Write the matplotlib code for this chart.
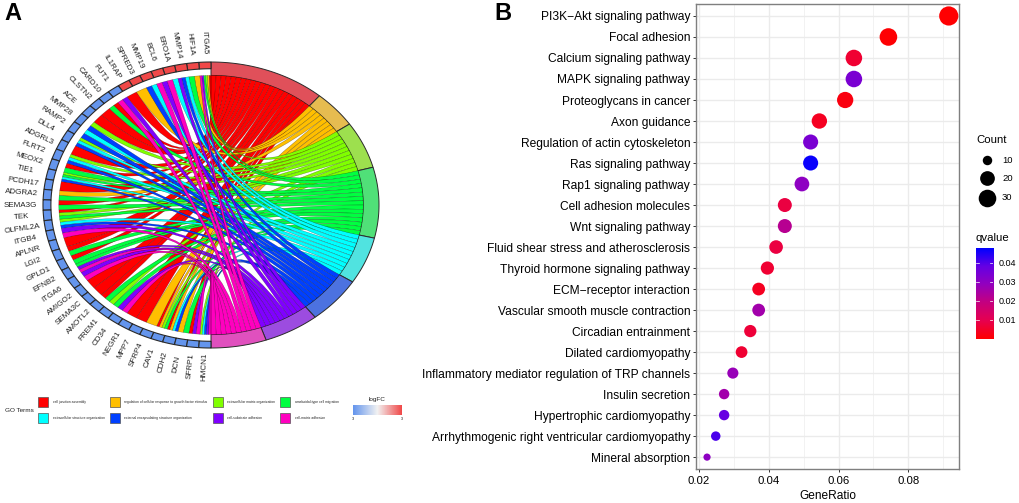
import numpy as np
import matplotlib
matplotlib.use('Agg')
import matplotlib.pyplot as plt
from matplotlib.path import Path
from matplotlib.patches import PathPatch, Rectangle
from matplotlib.colors import LinearSegmentedColormap

plt.rcParams['font.family'] = ['Liberation Sans', 'DejaVu Sans']

FIG_W, FIG_H = 1020, 503

############################### Data A ######################################
term_names = ['cell junction assembly', 'regulation of cellular response to growth factor stimulus',
              'extracellular matrix organization', 'ameboidal-type cell migration',
              'extracellular structure organization', 'external encapsulating structure organization',
              'cell-substrate adhesion', 'cell-matrix adhesion']
term_colors = ['#FF0000', '#FFBF00', '#80FF00', '#00FF40', '#00FFFF', '#0040FF', '#8000FF', '#FF00BF']
band_colors = ['#E0505A', '#E6BC50', '#9DE04E', '#50E078', '#50E3E0', '#4C72E0', '#9C4CE0', '#E050BE']

gene_names = ['ITGA5', 'HIF1A', 'MMP14', 'ERO1A', 'BCL6', 'MMP19', 'SPRED3', 'IL1RAP', 'FUT1', 'CARD10',
              'CLSTN2', 'ACE', 'MMP28', 'RAMP2', 'DLL4', 'ADGRL3', 'FLRT2', 'MEOX2', 'TIE1', 'PCDH17',
              'ADGRA2', 'SEMA3G', 'TEK', 'OLFML2A', 'ITGB4', 'APLNR', 'LGI2', 'GPLD1', 'EFNB2', 'ITGA6',
              'AMIGO2', 'SEMA3C', 'AMOTL2', 'FREM1', 'CD34', 'NEGR1', 'MPP7', 'SFRP4', 'CAV1', 'CDH2',
              'DCN', 'SFRP1', 'HMCN1']
gene_logfc = [3, 3, 3, 3, 3, 3, 3, 3, -3, -3, -3, -3, -3, -3, -3, -3, -3, -3, -3, -3, -3, -3,
              -3, -3, -3, -3, -3, -3, -3, -3, -3, -3, -3, -3, -3, -3, -3, -3, -3, -3, -3, -3, -3]
gene_terms = [[1, 2, 3, 4, 7, 8], [2, 4], [5, 6, 7], [5, 8], [7, 8], [5, 6], [2], [1], [7, 8], [1, 4],
              [1], [1], [3, 6], [5, 6], [3, 5, 6], [1], [3, 5, 6], [1, 4], [3, 4, 5, 6], [1],
              [2, 4], [1, 4], [1, 3, 4], [3, 5, 6], [7, 8], [1], [1, 4], [1, 4], [4, 7, 8], [7, 8],
              [1], [1], [1, 4], [3, 4], [7, 8], [1], [1], [2], [1, 2, 3, 4], [1, 2, 5, 6],
              [2, 4], [1, 7, 8], [3, 5, 6, 7, 8]]

############################### Data B ######################################
pathway_names = ['PI3K\u2212Akt signaling pathway', 'Focal adhesion', 'Calcium signaling pathway',
                 'MAPK signaling pathway', 'Proteoglycans in cancer', 'Axon guidance',
                 'Regulation of actin cytoskeleton', 'Ras signaling pathway', 'Rap1 signaling pathway',
                 'Cell adhesion molecules', 'Wnt signaling pathway', 'Fluid shear stress and atherosclerosis',
                 'Thyroid hormone signaling pathway', 'ECM\u2212receptor interaction',
                 'Vascular smooth muscle contraction', 'Circadian entrainment', 'Dilated cardiomyopathy',
                 'Inflammatory mediator regulation of TRP channels', 'Insulin secretion',
                 'Hypertrophic cardiomyopathy', 'Arrhythmogenic right ventricular cardiomyopathy',
                 'Mineral absorption']
gene_ratio = [0.0916, 0.0743, 0.0644, 0.0644, 0.0619, 0.0545, 0.0520, 0.0520, 0.0495, 0.0446, 0.0446,
              0.0421, 0.0396, 0.0371, 0.0371, 0.0347, 0.0322, 0.0297, 0.0272, 0.0272, 0.0248, 0.0223]
gene_count = [37, 30, 26, 26, 25, 22, 21, 21, 20, 18, 18, 17, 16, 15, 15, 14, 13, 12, 11, 11, 10, 9]
q_value = [0.0003, 0.0005, 0.006, 0.034, 0.002, 0.004, 0.034, 0.047, 0.030, 0.008, 0.022, 0.008,
           0.006, 0.004, 0.026, 0.007, 0.006, 0.028, 0.026, 0.038, 0.041, 0.030]
count_levels = [10, 20, 30]
q_ticks = [0.01, 0.02, 0.03, 0.04]
ratio_ticks = [0.02, 0.04, 0.06, 0.08]

q_map = LinearSegmentedColormap.from_list('q_map', ['#FF0000', '#E7004F', '#C5007F', '#9400BD', '#6500E4', '#0000FF'])
q_top = 0.048
fc_map = LinearSegmentedColormap.from_list('fc_map', ['#6495ED', '#F2F2F2', '#F04848'])


############################### Functions ######################################
def ax_px(left, top, right, bottom):
    # axes placed by pixel box of the figure
    return fig.add_axes([left / FIG_W, 1 - bottom / FIG_H, (right - left) / FIG_W, (bottom - top) / FIG_H])


def text_px(x, y, s, **kw):
    fig.text(x / FIG_W, 1 - y / FIG_H, s, **kw)


def xy(r, deg):
    rad = np.radians(deg)
    return r * np.cos(rad), r * np.sin(rad)


def arc_points(r, a0, a1, n=12):
    return [xy(r, a) for a in np.linspace(a0, a1, n)]


def band(ax, r0, r1, a0, a1, color, lw=0.7):
    pts = arc_points(r1, a0, a1, 30) + arc_points(r0, a1, a0, 30)
    ax.fill([p[0] for p in pts], [p[1] for p in pts], facecolor=color, edgecolor='#2A2A2A', lw=lw)


def ribbon(ax, r, t0, t1, g0, g1, color):
    # t0->t1 along the term, then to the gene through the centre, and back
    verts, codes = [], []
    pts = arc_points(r, t0, t1)
    verts += pts
    codes += [Path.MOVETO] + [Path.LINETO] * (len(pts) - 1)
    verts += [(0, 0), xy(r, g1)]
    codes += [Path.CURVE3, Path.CURVE3]
    pts = arc_points(r, g1, g0)[1:]
    verts += pts
    codes += [Path.LINETO] * len(pts)
    verts += [(0, 0), xy(r, t0)]
    codes += [Path.CURVE3, Path.CURVE3]
    ax.add_patch(PathPatch(Path(verts, codes), facecolor=color, edgecolor=(0, 0, 0, 0.45), lw=0.3))


def dot_area(count):
    dia_px = 2.4 * (3 + 5 * np.sqrt((np.asarray(count) - 9) / 28.0))
    return (dia_px * 0.72) ** 2


############################### Figure ######################################
fig = plt.figure(figsize=(FIG_W / 100, FIG_H / 100), dpi=100)

# ------- chord plot (1 unit = 168 px across, 143 px down) -------
cx, cy, rx, ry = 211, 205, 168, 143
ax = ax_px(0, 0, 420, 440)
ax.set_xlim(-cx / rx, (420 - cx) / rx)
ax.set_ylim((cy - 440) / ry, cy / ry)
ax.axis('off')

rib_r = 0.906
n_links = sum(len(t) for t in gene_terms)
term_sizes = [sum(k + 1 in t for t in gene_terms) for k in range(len(term_names))]
link_step = 180.0 / n_links
gene_step = 180.0 / len(gene_names)

# start angle of each term, clockwise from the top
term_pos = []
angle = 90.0
for k, size in enumerate(term_sizes):
    term_pos.append(angle)
    band(ax, rib_r, 1.0, angle, angle - size * link_step, band_colors[k])
    angle -= size * link_step

for k in range(len(term_names)):
    used = term_pos[k]
    for g, terms in enumerate(gene_terms):
        if k + 1 in terms:
            idx = terms.index(k + 1)
            part = gene_step / len(terms)
            g0 = 90 + g * gene_step + idx * part
            ribbon(ax, rib_r, used, used - link_step, g0, g0 + part, term_colors[k])
            used -= link_step

for g, name in enumerate(gene_names):
    a0 = 90 + g * gene_step
    band(ax, 0.953, 1.0, a0, a0 + gene_step, fc_map((gene_logfc[g] + 3) / 6.0), lw=0.8)
    mid = a0 + gene_step / 2
    lx, ly = xy(1.133, mid)
    ax.text(lx, ly, name, fontsize=5.8, color='#222222', rotation=mid - 180, ha='center', va='center',
            rotation_mode='anchor', clip_on=False)

# ------- legend of the chord plot -------
swatch_x = [38, 110, 213, 280]
label_x = [53, 124, 227, 295]
row_y = [402, 418]
lay = ax_px(0, 0, FIG_W, FIG_H)
lay.set_xlim(0, FIG_W)
lay.set_ylim(FIG_H, 0)
lay.axis('off')
lay.patch.set_alpha(0)
for k, name in enumerate(term_names):
    col, row = k % 4, k // 4
    lay.add_patch(Rectangle((swatch_x[col], row_y[row] - 5), 10, 10, facecolor=term_colors[k],
                            edgecolor='#555555', lw=0.5))
    text_px(label_x[col], row_y[row], name, fontsize=2.45, va='center', ha='left', color='#222222')
text_px(5, 410, 'GO Terms', fontsize=4.6, va='center', ha='left', color='#222222')
text_px(377, 399, 'logFC', fontsize=4.6, va='center', ha='center', color='#222222')
fc_ax = ax_px(353, 404.5, 402, 414.5)
fc_ax.imshow(np.linspace(0, 1, 200).reshape(1, -1), cmap=fc_map, aspect='auto')
fc_ax.axis('off')
text_px(353, 418.7, '-3', fontsize=2.5, va='center', ha='center')
text_px(402, 418.7, '3', fontsize=2.5, va='center', ha='center')

# ------- dot plot -------
bx = ax_px(695.7, 4, 959.4, 469.3)
y_pos = np.arange(len(pathway_names))
bx.set_xlim(0.01905, 0.09465)
bx.set_ylim(len(pathway_names) - 1 + 0.58, -0.57)
bx.set_axisbelow(True)
bx.grid(True, which='major', color='#EBEBEB', lw=1.0)
bx.set_xticks([0.03, 0.05, 0.07, 0.09], minor=True)
bx.grid(True, which='minor', axis='x', color='#F0F0F0', lw=0.6)
bx.tick_params(axis='x', which='minor', length=0)
bx.scatter(gene_ratio, y_pos, s=dot_area(gene_count), c=q_value, cmap=q_map, vmin=0, vmax=q_top,
           linewidths=0, zorder=3)
bx.set_yticks(y_pos)
bx.set_yticklabels(pathway_names, fontsize=8.65, color='black')
bx.set_xticks(ratio_ticks)
bx.set_xticklabels(['%.2f' % v for v in ratio_ticks], fontsize=8.2, color='black')
bx.tick_params(axis='both', which='major', length=2.4, width=0.7, color='#333333', pad=1.6)
bx.tick_params(axis='x', which='major', pad=2.4)
bx.set_xlabel('GeneRatio', fontsize=8.6, labelpad=3.2)
for spine in bx.spines.values():
    spine.set_color('#7F7F7F')
    spine.set_linewidth(1.0)

# ------- legends of the dot plot -------
text_px(976, 140, 'Count', fontsize=8.2, va='center', ha='left')
for count, y in zip(count_levels, [160, 178, 198]):
    lay.scatter([986.7], [y], s=dot_area(count), color='black', linewidths=0)
    text_px(1002, y, str(count), fontsize=6.8, va='center', ha='left')
text_px(976, 238, 'qvalue', fontsize=8.2, va='center', ha='left')
q_ax = ax_px(976, 248.3, 993.3, 339)
q_ax.imshow(np.linspace(0, 1, 256).reshape(-1, 1), cmap=q_map, aspect='auto', origin='lower',
            extent=[0, 1, 0, q_top])
for q in q_ticks:
    q_ax.plot([0, 0.2], [q, q], color='white', lw=0.5)
    q_ax.plot([0.8, 1], [q, q], color='white', lw=0.5)
    text_px(999, 339 - q / q_top * 90.7, '%.2f' % q, fontsize=6.5, va='center', ha='left')
q_ax.set_xlim(0, 1)
q_ax.set_ylim(0, q_top)
q_ax.axis('off')

# panel letters
text_px(4, 13.5, 'A', fontsize=17, fontweight='bold', va='center', ha='left')
text_px(494, 13.5, 'B', fontsize=17, fontweight='bold', va='center', ha='left')

fig.savefig('out.png', dpi=100)
